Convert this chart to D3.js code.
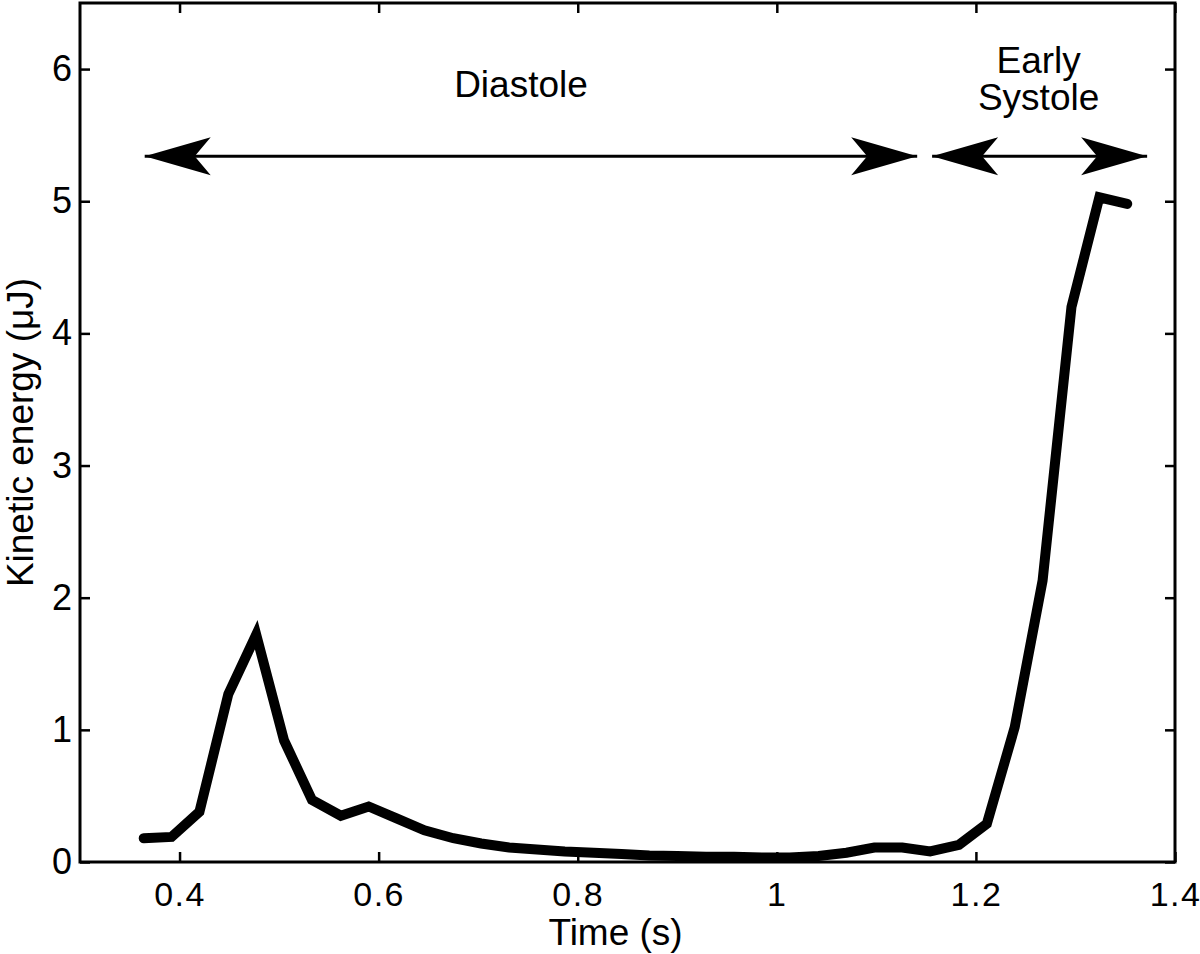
<!DOCTYPE html>
<html>
<head>
<meta charset="utf-8">
<script src="https://cdn.jsdelivr.net/npm/d3@7"></script>
<style>
  body { margin: 0; background: #fff; }
  text { font-family: "Liberation Sans", Arial, Helvetica, sans-serif; fill: #000; }
</style>
</head>
<body>
<script>
// time samples (s) and kinetic energy (uJ)
const timeS = [0.364, 0.392, 0.420, 0.449, 0.477, 0.505, 0.533, 0.562, 0.590, 0.618,
               0.646, 0.675, 0.703, 0.731, 0.759, 0.787, 0.816, 0.844, 0.872, 0.900,
               0.929, 0.957, 0.985, 1.013, 1.042, 1.070, 1.098, 1.126, 1.154, 1.183,
               1.211, 1.239, 1.267, 1.296, 1.324, 1.352];
const kineticEnergy = [0.18, 0.19, 0.38, 1.27, 1.72, 0.92, 0.47, 0.35, 0.42, 0.33,
                       0.24, 0.18, 0.14, 0.11, 0.095, 0.08, 0.07, 0.06, 0.05, 0.045,
                       0.04, 0.04, 0.035, 0.035, 0.045, 0.07, 0.11, 0.11, 0.08, 0.13,
                       0.29, 1.02, 2.13, 4.20, 5.03, 4.98];

const xTicks = [0.4, 0.6, 0.8, 1.0, 1.2, 1.4];
const yTicks = [0, 1, 2, 3, 4, 5, 6];

// phase arrows
const phaseStart = [0.365, 1.156];
const phaseEnd = [1.141, 1.372];
const phaseArrowY = [5.34, 5.34];
const phaseLabelX = [0.743, 1.263];
const phaseLabelLines = [["Diastole"], ["Early", "Systole"]];
const phaseLabelTop = [5.79, 5.97];

const width = 1200, height = 954;
const margin = { top: 3, right: 25, bottom: 92, left: 80 };

const svg = d3.select("body").append("svg")
    .attr("width", width)
    .attr("height", height);

const x = d3.scaleLinear()
    .domain([0.3, 1.4])
    .range([margin.left, width - margin.right]);

const y = d3.scaleLinear()
    .domain([0, 6.5])
    .range([height - margin.bottom, margin.top]);

const fmt = d => d3.format("~g")(d);

// bottom axis
const xAxis = svg.append("g")
    .attr("transform", `translate(0,${height - margin.bottom})`)
    .call(d3.axisBottom(x).tickValues(xTicks).tickFormat(fmt).tickSizeInner(-10).tickSizeOuter(0).tickPadding(20));
xAxis.selectAll("text").attr("font-size", 34).attr("letter-spacing", 1.5);

// left axis
const yAxis = svg.append("g")
    .attr("transform", `translate(${margin.left},0)`)
    .call(d3.axisLeft(y).tickValues(yTicks).tickFormat(fmt).tickSizeInner(-10).tickSizeOuter(0).tickPadding(8));
yAxis.selectAll("text").attr("font-size", 36);

// mirrored ticks on top and right
svg.append("g")
    .attr("transform", `translate(0,${margin.top})`)
    .call(d3.axisTop(x).tickValues(xTicks).tickFormat("").tickSizeInner(-10).tickSizeOuter(0));
svg.append("g")
    .attr("transform", `translate(${width - margin.right},0)`)
    .call(d3.axisRight(y).tickValues(yTicks).tickFormat("").tickSizeInner(-10).tickSizeOuter(0));

svg.selectAll(".domain").remove();
svg.selectAll(".tick line").attr("stroke", "#000").attr("stroke-width", 2.5);

// frame
svg.append("rect")
    .attr("x", margin.left)
    .attr("y", margin.top)
    .attr("width", width - margin.left - margin.right)
    .attr("height", height - margin.top - margin.bottom)
    .attr("fill", "none")
    .attr("stroke", "#000")
    .attr("stroke-width", 3);

// axis titles
svg.append("text")
    .attr("x", x(0.838))
    .attr("y", 945)
    .attr("text-anchor", "middle")
    .attr("font-size", 37)
    .text("Time (s)");

svg.append("text")
    .attr("transform", `translate(33,${(margin.top + height - margin.bottom) / 2}) rotate(-90)`)
    .attr("text-anchor", "middle")
    .attr("font-size", 37)
    .text("Kinetic energy (μJ)");

// kinetic energy curve
const points = timeS.map((t, i) => ({ t, e: kineticEnergy[i] }));
const line = d3.line()
    .x(d => x(d.t))
    .y(d => y(d.e));

svg.append("path")
    .datum(points)
    .attr("d", line)
    .attr("fill", "none")
    .attr("stroke", "#000")
    .attr("stroke-width", 10)
    .attr("stroke-linejoin", "miter")
    .attr("stroke-linecap", "round");

// arrowheads
const defs = svg.append("defs");
defs.append("marker")
    .attr("id", "head")
    .attr("markerUnits", "userSpaceOnUse")
    .attr("markerWidth", 80)
    .attr("markerHeight", 50)
    .attr("viewBox", "-70 -25 80 50")
    .attr("refX", 0)
    .attr("refY", 0)
    .attr("orient", "auto-start-reverse")
    .append("path")
    .attr("d", "M0,0 L-66,-19 L-50,0 L-66,19 Z")
    .attr("fill", "#000");

const phases = phaseStart.map((s, i) => ({
  start: s, end: phaseEnd[i], ay: phaseArrowY[i],
  lx: phaseLabelX[i], lines: phaseLabelLines[i], top: phaseLabelTop[i]
}));

svg.selectAll(".phase-arrow")
    .data(phases)
    .enter()
    .append("line")
    .attr("class", "phase-arrow")
    .attr("x1", d => x(d.start))
    .attr("x2", d => x(d.end))
    .attr("y1", d => y(d.ay))
    .attr("y2", d => y(d.ay))
    .attr("stroke", "#000")
    .attr("stroke-width", 3)
    .attr("marker-start", "url(#head)")
    .attr("marker-end", "url(#head)");

const labels = svg.selectAll(".phase-label")
    .data(phases)
    .enter()
    .append("text")
    .attr("class", "phase-label")
    .attr("x", d => x(d.lx))
    .attr("y", d => y(d.top))
    .attr("text-anchor", "middle")
    .attr("font-size", 37);

labels.selectAll("tspan")
    .data(d => d.lines.map(l => ({ l, x: x(d.lx) })))
    .enter()
    .append("tspan")
    .attr("x", d => d.x)
    .attr("dy", (d, i) => i === 0 ? 0 : 37)
    .text(d => d.l);
</script>
</body>
</html>
